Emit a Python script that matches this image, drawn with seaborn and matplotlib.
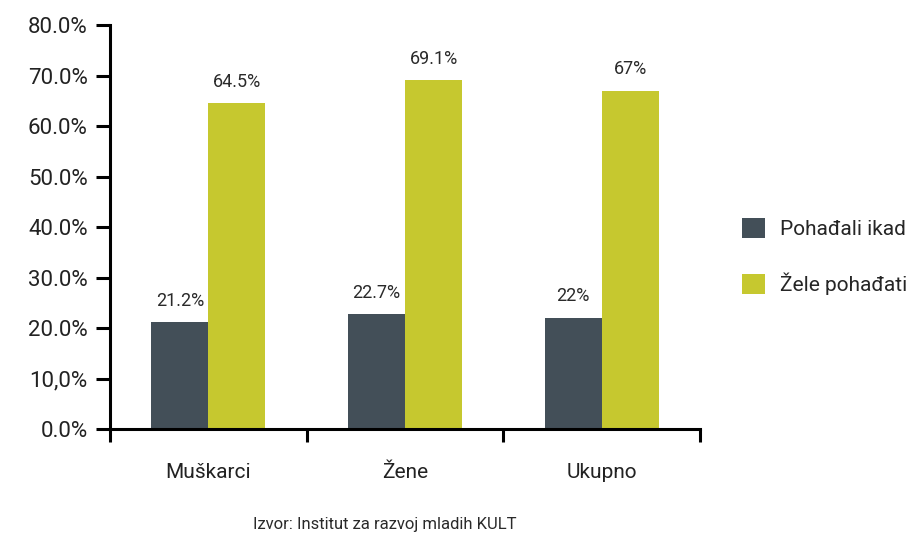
import matplotlib
matplotlib.use('Agg')
import matplotlib.pyplot as plt
import seaborn as sns
import pandas as pd
from matplotlib.ticker import FixedLocator, FuncFormatter

categories = ['Muškarci', 'Žene', 'Ukupno']
pohadjali = [21.2, 22.7, 22.0]
zele = [64.5, 69.1, 67.0]
series = ['Pohađali ikad', 'Žele pohađati']
colors = ['#434f58', '#c6c82f']

df = pd.DataFrame({
    'Kategorija': categories * 2,
    'Vrijednost': pohadjali + zele,
    'Serija': [series[0]] * 3 + [series[1]] * 3,
})

sns.set_style('white')
plt.rcParams['font.family'] = ['Roboto', 'DejaVu Sans']

fig = plt.figure(figsize=(9.12, 5.35), dpi=100)
ax = fig.add_axes([0.1206, 0.198, 0.647, 0.755])

sns.barplot(data=df, x='Kategorija', y='Vrijednost', hue='Serija',
            palette=colors, width=0.58, saturation=1, ax=ax, errorbar=None,
            linewidth=0)

for cont in ax.containers:
    labels = [f'{v:g}%' for v in cont.datavalues]
    ax.bar_label(cont, labels=labels, padding=9, fontsize=13, color='#2a2a2a')

ax.set_ylim(0, 80)
ax.set_xlim(-0.5, 2.5)
ax.set_yticks(range(0, 81, 10))
ax.yaxis.set_major_formatter(FuncFormatter(
    lambda v, p: '10,0%' if v == 10 else f'{v:.1f}%'))
ax.set_xlabel('')
ax.set_ylabel('')

for s in ['top', 'right']:
    ax.spines[s].set_visible(False)
for s in ['left', 'bottom']:
    ax.spines[s].set_linewidth(2.2)
    ax.spines[s].set_color('black')

ax.tick_params(axis='y', which='major', left=True, length=10, width=2.2,
               labelsize=16, pad=6, colors='black', labelcolor='#222222')
ax.tick_params(axis='x', which='major', bottom=False, labelsize=15,
               pad=21, labelcolor='#222222')
ax.xaxis.set_minor_locator(FixedLocator([-0.5, 0.5, 1.5, 2.5]))
ax.tick_params(axis='x', which='minor', bottom=True, length=9, width=2.2,
               direction='out', color='black')

handles, labs = ax.get_legend_handles_labels()
ax.legend(handles, labs, loc='center left', bbox_to_anchor=(0.805, 0.52),
          bbox_transform=fig.transFigure, frameon=False, fontsize=15,
          handlelength=1.1, handleheight=1.1, labelspacing=1.6,
          handletextpad=0.7, borderaxespad=0)

fig.text(0.422, 0.006, 'Izvor: Institut za razvoj mladih KULT',
         ha='center', va='bottom', fontsize=12, color='#2a2a2a')

fig.savefig('out.png', dpi=100)
